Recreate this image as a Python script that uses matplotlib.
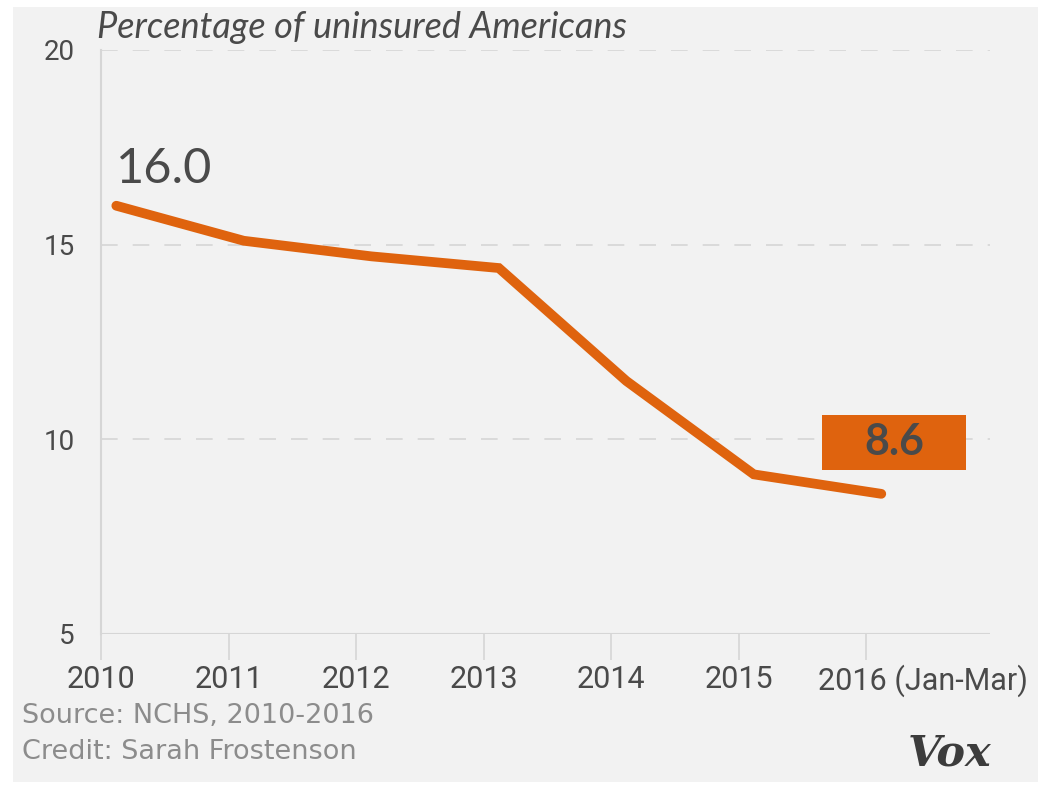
import numpy as np
import matplotlib
matplotlib.use("Agg")
import matplotlib.pyplot as plt
from matplotlib.patches import Rectangle
from matplotlib.transforms import ScaledTranslation

# data
years = ["2010", "2011", "2012", "2013", "2014", "2015", "2016 (Jan-Mar)"]
uninsured = [16.0, 15.1, 14.7, 14.4, 11.5, 9.1, 8.6]
y_ticks = [5, 10, 15, 20]

orange = "#df630e"
dark = "#4a4a4a"
grid_c = "#d6d6d6"
bg = "#f2f2f2"

fig = plt.figure(figsize=(10.38, 7.91), dpi=100, facecolor="white")
fig.patches.append(Rectangle((13 / 1038, 9 / 791), 1 - 13 / 1038, 1 - 16 / 791,
                             transform=fig.transFigure, facecolor=bg,
                             edgecolor="none", zorder=-10))

ax = fig.add_axes([101 / 1038, 157 / 791, 889 / 1038, 584 / 791])
ax.set_facecolor("none")

tick_pos = np.arange(len(years))
point_pos = tick_pos + 0.12  # points sit a little right of the ticks

ax.plot(point_pos, uninsured, color=orange, lw=7, solid_capstyle="round",
        solid_joinstyle="miter", zorder=3)

ax.set_xlim(0, 889 / 127.5)
ax.set_ylim(5, 20)

# gridlines
for v in y_ticks:
    if v == 5:
        ax.axhline(v, color=grid_c, lw=1.5, zorder=1)
    else:
        ax.axhline(v, color=grid_c, lw=1.2, dashes=(10, 9), zorder=1)

for s in ["top", "right", "bottom"]:
    ax.spines[s].set_visible(False)
ax.spines["left"].set_color(grid_c)
ax.spines["left"].set_linewidth(1.5)

ax.set_yticks(y_ticks)
ax.set_yticklabels([str(v) for v in y_ticks])
ax.tick_params(axis="y", length=0, pad=19, labelsize=20, labelcolor=dark)

ax.set_xticks(tick_pos)
ax.set_xticklabels(years)
ax.tick_params(axis="x", length=19, width=1.2, color=grid_c, pad=3,
               labelsize=22, labelcolor=dark)
for lab in ax.get_yticklabels() + ax.get_xticklabels():
    lab.set_fontfamily("Roboto")
last = ax.get_xticklabels()[-1]
last.set_horizontalalignment("left")
last.set_transform(last.get_transform() + ScaledTranslation(-0.48, 0, fig.dpi_scale_trans))

# labels on the line
ax.text(point_pos[0], 16.95, f"{uninsured[0]:.1f}", fontsize=35, color=dark,
        family="Lato", ha="left", va="center")

# orange box for the latest value
box_x, box_y = 6.22, 9.92
ax.add_patch(Rectangle((box_x - 0.565, box_y - 0.71), 1.13, 1.42,
                       facecolor=orange, edgecolor="none", zorder=4))
ax.text(box_x, box_y, f"{uninsured[-1]:.1f}", fontsize=31, color=dark,
        family="Lato", weight="bold", ha="center", va="center", zorder=5)

fig.text(97 / 1038, 1 - 28 / 791, "Percentage of uninsured Americans",
         fontsize=26, style="italic", color=dark, family="Lato",
         ha="left", va="center")

fig.text(22 / 1038, 1 - 716 / 791, "Source: NCHS, 2010-2016", fontsize=19.5,
         color="#8c8c8c", family="DejaVu Sans", ha="left", va="center")
fig.text(22 / 1038, 1 - 752 / 791, "Credit: Sarah Frostenson", fontsize=19.5,
         color="#8c8c8c", family="DejaVu Sans", ha="left", va="center")
fig.text(991 / 1038, 1 - 753 / 791, "Vox", fontsize=31, color="#3c3c3c",
         family="DejaVu Serif", weight="bold", style="italic",
         ha="right", va="center")

fig.savefig("out.png", dpi=100, facecolor=fig.get_facecolor())
